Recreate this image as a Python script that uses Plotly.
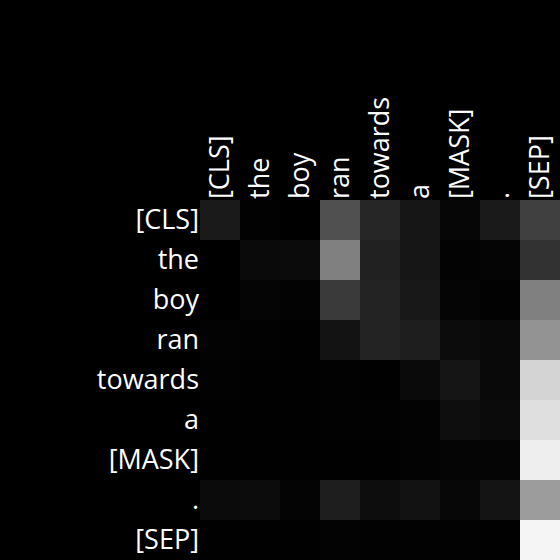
import plotly.graph_objects as go

tokens = ["[CLS]", "the", "boy", "ran", "towards", "a", "[MASK]", ".", "[SEP]"]

# attention weights (rows: query token, cols: key token), estimated from grayscale
row_cls = [26, 2, 0, 80, 38, 22, 6, 26, 64]
row_the = [0, 10, 11, 128, 33, 22, 3, 5, 50]
row_boy = [0, 5, 3, 58, 35, 24, 5, 2, 128]
row_ran = [3, 2, 1, 19, 35, 30, 12, 9, 147]
row_towards = [2, 1, 1, 2, 1, 10, 21, 9, 212]
row_a = [1, 1, 1, 2, 2, 3, 14, 11, 223]
row_mask = [1, 1, 1, 1, 1, 3, 5, 5, 238]
row_dot = [11, 12, 4, 30, 13, 18, 7, 20, 156]
row_sep = [1, 1, 1, 3, 2, 2, 2, 1, 245]

rows = [row_cls, row_the, row_boy, row_ran, row_towards, row_a, row_mask, row_dot, row_sep]
z = [[v / 255.0 for v in r] for r in rows]

fig = go.Figure(go.Heatmap(
    z=z, x=tokens, y=tokens,
    colorscale=[[0, "rgb(0,0,0)"], [1, "rgb(255,255,255)"]],
    zmin=0, zmax=1, showscale=False, xgap=0, ygap=0,
))

fig.update_layout(
    width=560, height=560,
    margin=dict(l=200, r=0, t=200, b=0),
    paper_bgcolor="black", plot_bgcolor="black",
    font=dict(family="Open Sans", color="white", size=27),
)
fig.update_xaxes(side="top", tickangle=-90, showgrid=False, zeroline=False,
                 ticks="", ticklen=0, tickfont=dict(size=27, color="white"))
fig.update_yaxes(autorange="reversed", showgrid=False, zeroline=False,
                 ticks="", ticklen=0, tickfont=dict(size=27, color="white"))

fig.write_html("out.html")
